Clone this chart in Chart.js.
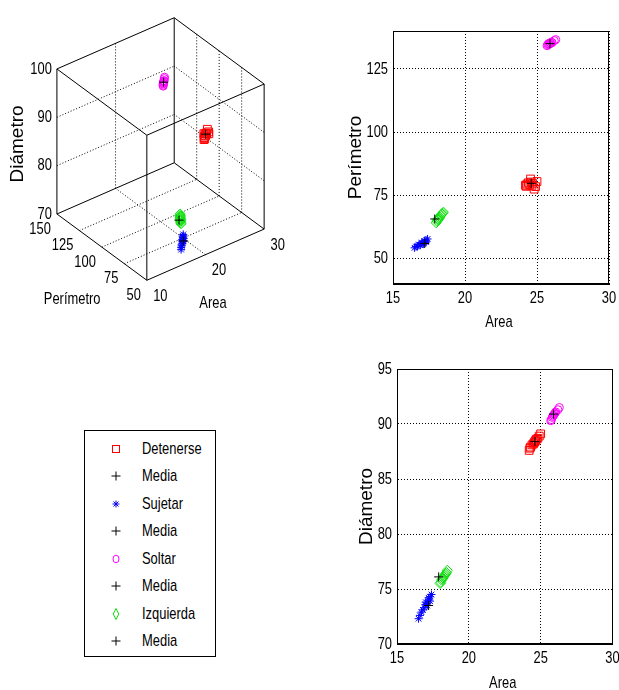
<!DOCTYPE html>
<html>
<head>
<meta charset="utf-8">
<script src="https://cdn.jsdelivr.net/npm/chart.js@4.4.0/dist/chart.umd.min.js"></script>
<style>
  body { margin: 0; background: #fff; width: 619px; height: 690px; overflow: hidden; position: relative; }
  canvas { position: absolute; }
  #legend {
    position: absolute; left: 84px; top: 430px; width: 132px; height: 227px;
    border: 1px solid #000; box-sizing: border-box; padding-top: 4px;
    font: 17px 'Liberation Sans', Arial, sans-serif; color: #000;
  }
  #legend .row { height: 27.5px; display: flex; align-items: center; white-space: nowrap; }
  #legend svg { margin-left: 23px; width: 16px; height: 16px; flex: none; }
  #legend span { margin-left: 18px; display: inline-block; transform: scaleX(0.76); transform-origin: left center; }
</style>
</head>
<body>
<canvas id="chart3d" width="300" height="330" style="left:0;top:0"></canvas>
<canvas id="areaPerimetro" width="289" height="340" style="left:330px;top:0"></canvas>
<canvas id="areaDiametro" width="279" height="350" style="left:340px;top:350px"></canvas>
<div id="legend"></div>

<script>
// measurements per gesture class
const detenerseArea      = [24.2, 24.25, 24.3, 24.4, 24.5, 24.55, 24.6, 24.65, 24.7, 24.8, 24.9, 25.0];
const detenersePerimetro = [79.0, 78.6, 79.5, 80.0, 79.2, 81.5, 80.3, 79.0, 79.8, 77.5, 78.5, 80.5];
const detenerseDiametro  = [87.6, 87.8, 87.9, 88.1, 88.2, 88.3, 88.4, 88.5, 88.6, 88.7, 88.9, 89.1];

const sujetarArea      = [16.5, 16.6, 16.7, 16.8, 16.9, 17.0, 17.0, 17.1, 17.2, 17.2, 17.3, 17.3, 17.4, 17.1];
const sujetarPerimetro = [54.3, 54.8, 55.0, 55.6, 55.3, 56.0, 56.4, 56.2, 56.8, 57.0, 57.3, 56.6, 57.8, 55.8];
const sujetarDiametro  = [72.3, 72.6, 72.9, 73.1, 73.3, 73.6, 73.8, 73.7, 74.0, 74.2, 74.3, 73.9, 74.5, 73.5];

const soltarArea      = [25.7, 25.75, 25.8, 25.85, 25.9, 25.95, 26.0, 26.05, 26.2, 26.3];
const soltarPerimetro = [134.2, 134.6, 135.0, 134.8, 135.3, 135.1, 135.6, 135.4, 136.2, 136.6];
const soltarDiametro  = [90.3, 90.4, 90.6, 90.7, 90.8, 90.9, 91.0, 91.1, 91.3, 91.5];

const izquierdaArea      = [18.0, 18.05, 18.1, 18.15, 18.2, 18.25, 18.3, 18.35, 18.4, 18.45, 18.5, 18.2];
const izquierdaPerimetro = [64.2, 64.8, 65.3, 65.6, 66.2, 66.5, 67.0, 67.3, 67.7, 68.0, 68.4, 65.9];
const izquierdaDiametro  = [75.5, 75.6, 75.8, 75.9, 76.0, 76.1, 76.2, 76.3, 76.4, 76.5, 76.7, 76.0];

// class means (Detenerse, Sujetar, Soltar, Izquierda)
const meanLabel = 'Media';
const mediaArea      = [24.6, 17.2, 25.9, 17.9];
const mediaPerimetro = [79.8, 56.0, 135.0, 65.7];
const mediaDiametro  = [88.4, 73.5, 90.9, 76.1];

// axis ticks
const areaTicks2d      = [15, 20, 25, 30];
const perimetroTicks2d = [50, 75, 100, 125];
const diametroTicks2d  = [70, 75, 80, 85, 90, 95];
const areaTicks3d      = [10, 20, 30];
const perimetroTicks3d = [50, 75, 100, 125, 150];
const diametroTicks3d  = [70, 80, 90, 100];

const groups = [
  { name: 'Detenerse', area: detenerseArea, perimetro: detenersePerimetro, diametro: detenerseDiametro },
  { name: 'Sujetar',   area: sujetarArea,   perimetro: sujetarPerimetro,   diametro: sujetarDiametro },
  { name: 'Soltar',    area: soltarArea,    perimetro: soltarPerimetro,    diametro: soltarDiametro },
  { name: 'Izquierda', area: izquierdaArea, perimetro: izquierdaPerimetro, diametro: izquierdaDiametro }
];

const classStyle = [
  { color: '#ff0000', marker: 'rect',    radius: 5.5 },
  { color: '#0000ff', marker: 'star',    radius: 4 },
  { color: '#ff00ff', marker: 'circle',  radius: 4 },
  { color: '#10e010', marker: 'rectRot', radius: 5 }
];

const textFont = { family: "'Liberation Sans', Arial, sans-serif", size: 17 };
const sideFont = { family: "'Liberation Sans', Arial, sans-serif", size: 19 };
const squeeze = 0.76; // horizontal text is drawn narrow and tall

function condensedText(ctx, text, x, y, align) {
  ctx.save();
  ctx.font = `${textFont.size}px ${textFont.family}`;
  ctx.fillStyle = '#000';
  ctx.textAlign = align;
  ctx.textBaseline = 'middle';
  ctx.translate(x, y);
  ctx.scale(squeeze, 1);
  ctx.fillText(text, 0, 0);
  ctx.restore();
}

function markerSets(toPoint) {
  const sets = [];
  groups.forEach((g, i) => {
    const st = classStyle[i];
    sets.push({
      label: g.name,
      data: g.area.map((a, k) => toPoint(a, g.perimetro[k], g.diametro[k])),
      pointStyle: st.marker, pointRadius: st.radius, pointBorderWidth: 1,
      pointBorderColor: st.color, pointBackgroundColor: 'rgba(0,0,0,0)',
      borderColor: st.color, showLine: false, clip: false, order: 20 - 2 * i
    });
    sets.push({
      label: meanLabel,
      data: [toPoint(mediaArea[i], mediaPerimetro[i], mediaDiametro[i])],
      pointStyle: 'cross', pointRadius: 4.5, pointBorderWidth: 1,
      pointBorderColor: '#000', pointBackgroundColor: 'rgba(0,0,0,0)',
      borderColor: '#000', showLine: false, clip: false, order: 19 - 2 * i
    });
  });
  return sets;
}

// closes the axes box on the top and right sides
const frame = {
  id: 'frame',
  afterDraw(chart) {
    const { ctx, chartArea: a } = chart;
    ctx.save();
    ctx.strokeStyle = '#000';
    ctx.lineWidth = 1;
    ctx.strokeRect(Math.round(a.left) + 0.5, Math.round(a.top) + 0.5,
      Math.round(a.right - a.left) - 1, Math.round(a.bottom - a.top) - 1);
    ctx.restore();
  }
};

const axisText = {
  id: 'axisText',
  afterDraw(chart, args, opts) {
    const { ctx, chartArea: a, scales: { x, y } } = chart;
    x.ticks.forEach(t => condensedText(ctx, String(t.value), x.getPixelForValue(t.value), a.bottom + 14, 'center'));
    y.ticks.forEach(t => condensedText(ctx, String(t.value), a.left - 5, y.getPixelForValue(t.value), 'right'));
    condensedText(ctx, 'Area', (a.left + a.right) / 2 - 2, a.bottom + opts.titleGap, 'center');
  }
};

function scatter2d(id, yKey, yMin, yMax, yTicks, yTitle, dims) {
  const yOf = { perimetro: (a, p, d) => ({ x: a, y: p }), diametro: (a, p, d) => ({ x: a, y: d }) };
  return new Chart(document.getElementById(id), {
    type: 'scatter',
    data: { datasets: markerSets(yOf[yKey]) },
    plugins: [frame, axisText],
    options: {
      responsive: false, animation: false, events: [],
      layout: { padding: { top: dims.top, right: dims.right, left: 0, bottom: 0 } },
      plugins: { legend: { display: false }, tooltip: { enabled: false }, axisText: { titleGap: dims.titleGap } },
      scales: {
        x: {
          type: 'linear', min: 15, max: 30,
          afterBuildTicks: s => { s.ticks = areaTicks2d.map(v => ({ value: v })); },
          afterFit: s => { s.height = dims.xHeight; },
          ticks: { display: false },
          grid: { color: '#000', drawTicks: false },
          border: { color: '#000', dash: [1, 2] }
        },
        y: {
          type: 'linear', min: yMin, max: yMax,
          afterBuildTicks: s => { s.ticks = yTicks.map(v => ({ value: v })); },
          afterFit: s => { s.width = dims.left; },
          ticks: { display: false },
          grid: { color: '#000', drawTicks: false },
          border: { color: '#000', dash: [1, 2] },
          title: { display: true, text: yTitle, font: sideFont, color: '#000', padding: { top: dims.yTitlePad, bottom: 0 } }
        }
      }
    }
  });
}

scatter2d('areaPerimetro', 'perimetro', 40, 140, perimetroTicks2d, 'Perímetro',
  { left: 63, right: 10, top: 31, xHeight: 56, titleGap: 38, yTitlePad: 14.3 });
scatter2d('areaDiametro', 'diametro', 70, 95, diametroTicks2d, 'Diámetro',
  { left: 57, right: 6, top: 19, xHeight: 56, titleGap: 39, yTitlePad: 15.3 });

// ---- 3D view: Area / Perímetro / Diámetro ----
const box3d = { area: [10, 30], perimetro: [50, 150], diametro: [70, 100] };
// canvas position of the corner (area min, perimetro min, diametro min) and the
// canvas vector each axis spans over its whole range
const view = { x0: 146.7, y0: 285, area: [122.6, -53.3], perimetro: [-94, -69], diametro: [0, -151] };

function project(a, p, d) {
  const u = (a - box3d.area[0]) / (box3d.area[1] - box3d.area[0]);
  const v = (p - box3d.perimetro[0]) / (box3d.perimetro[1] - box3d.perimetro[0]);
  const w = (d - box3d.diametro[0]) / (box3d.diametro[1] - box3d.diametro[0]);
  return {
    x: view.x0 + u * view.area[0] + v * view.perimetro[0] + w * view.diametro[0],
    y: view.y0 + u * view.area[1] + v * view.perimetro[1] + w * view.diametro[1]
  };
}

function segment(p1, p2, dashed) {
  return {
    data: [project(...p1), project(...p2)], showLine: true, clip: false,
    borderColor: '#000', borderWidth: 1, borderDash: dashed ? [1, 2] : [],
    pointRadius: 0, order: dashed ? 60 : 50
  };
}

const boxLines = [];
const A = box3d.area, P = box3d.perimetro, D = box3d.diametro;
// twelve box edges
for (const a of A) for (const p of P) {
  boxLines.push(segment([a, p, D[0]], [a, p, D[1]]));
}
for (const a of A) for (const d of D) {
  boxLines.push(segment([a, P[0], d], [a, P[1], d]));
}
for (const p of P) for (const d of D) {
  boxLines.push(segment([A[0], p, d], [A[1], p, d]));
}
// dotted grid on the back walls and the floor
const inner = (ticks, range) => ticks.filter(t => t > range[0] && t < range[1]);
inner(areaTicks3d, A).forEach(a => {
  boxLines.push(segment([a, P[1], D[0]], [a, P[1], D[1]], true));
  boxLines.push(segment([a, P[0], D[0]], [a, P[1], D[0]], true));
});
inner(perimetroTicks3d, P).forEach(p => {
  boxLines.push(segment([A[1], p, D[0]], [A[1], p, D[1]], true));
  boxLines.push(segment([A[0], p, D[0]], [A[1], p, D[0]], true));
});
inner(diametroTicks3d, D).forEach(d => {
  boxLines.push(segment([A[0], P[1], d], [A[1], P[1], d], true));
  boxLines.push(segment([A[1], P[0], d], [A[1], P[1], d], true));
});

const labels3d = {
  id: 'labels3d',
  afterDraw(chart) {
    const { ctx, scales: { x, y } } = chart;
    const at = (pt, dx, dy) => [x.getPixelForValue(pt.x) + dx, y.getPixelForValue(pt.y) + dy];
    diametroTicks3d.forEach(d => condensedText(ctx, String(d), ...at(project(A[0], P[1], d), -5, 0), 'right'));
    perimetroTicks3d.forEach(p => condensedText(ctx, String(p), ...at(project(A[0], p, D[0]), -6, 15), 'right'));
    areaTicks3d.forEach(a => condensedText(ctx, String(a), ...at(project(a, P[0], D[0]), 13.5, 16), 'center'));
    condensedText(ctx, 'Perímetro', ...at(project(A[0], 100, D[0]), -29.7, 52.5), 'center');
    condensedText(ctx, 'Area', ...at(project(20, P[0], D[0]), 7.5, 48.6), 'center');
    const [tx, ty] = at(project(A[0], P[1], 85), -39.4, 2.5);
    ctx.save();
    ctx.fillStyle = '#000';
    ctx.textAlign = 'center';
    ctx.textBaseline = 'middle';
    ctx.translate(tx, ty);
    ctx.rotate(-Math.PI / 2);
    ctx.font = `${sideFont.size}px ${sideFont.family}`;
    ctx.fillText('Diámetro', 0, 0);
    ctx.restore();
  }
};

new Chart(document.getElementById('chart3d'), {
  type: 'scatter',
  data: { datasets: markerSets(project).concat(boxLines) },
  plugins: [labels3d],
  options: {
    responsive: false, animation: false, events: [],
    layout: { padding: 0 },
    plugins: { legend: { display: false }, tooltip: { enabled: false } },
    scales: {
      x: { type: 'linear', min: 0, max: 300, display: false },
      y: { type: 'linear', min: 0, max: 330, reverse: true, display: false }
    }
  }
});

// ---- legend ----
function markerSvg(kind, color) {
  const s = `fill="none" stroke="${color}" stroke-width="1"`;
  switch (kind) {
    case 'rect':    return `<rect x="4.5" y="4.5" width="7" height="7" ${s}/>`;
    case 'star':    return `<path d="M8 4.5V11.5M4.5 8H11.5M5.5 5.5L10.5 10.5M10.5 5.5L5.5 10.5" ${s}/>`;
    case 'circle':  return `<ellipse cx="8" cy="8" rx="3" ry="3.8" ${s}/>`;
    case 'rectRot': return `<path d="M8 2.5L10.8 8L8 13.5L5.2 8Z" ${s}/>`;
    default:        return `<path d="M8 3.5V12.5M3.5 8H12.5" ${s}/>`;
  }
}
const legendEl = document.getElementById('legend');
groups.forEach((g, i) => {
  const st = classStyle[i];
  legendEl.innerHTML +=
    `<div class="row"><svg viewBox="0 0 16 16">${markerSvg(st.marker, st.color)}</svg><span>${g.name}</span></div>` +
    `<div class="row"><svg viewBox="0 0 16 16">${markerSvg('cross', '#000')}</svg><span>${meanLabel}</span></div>`;
});
</script>
</body>
</html>
